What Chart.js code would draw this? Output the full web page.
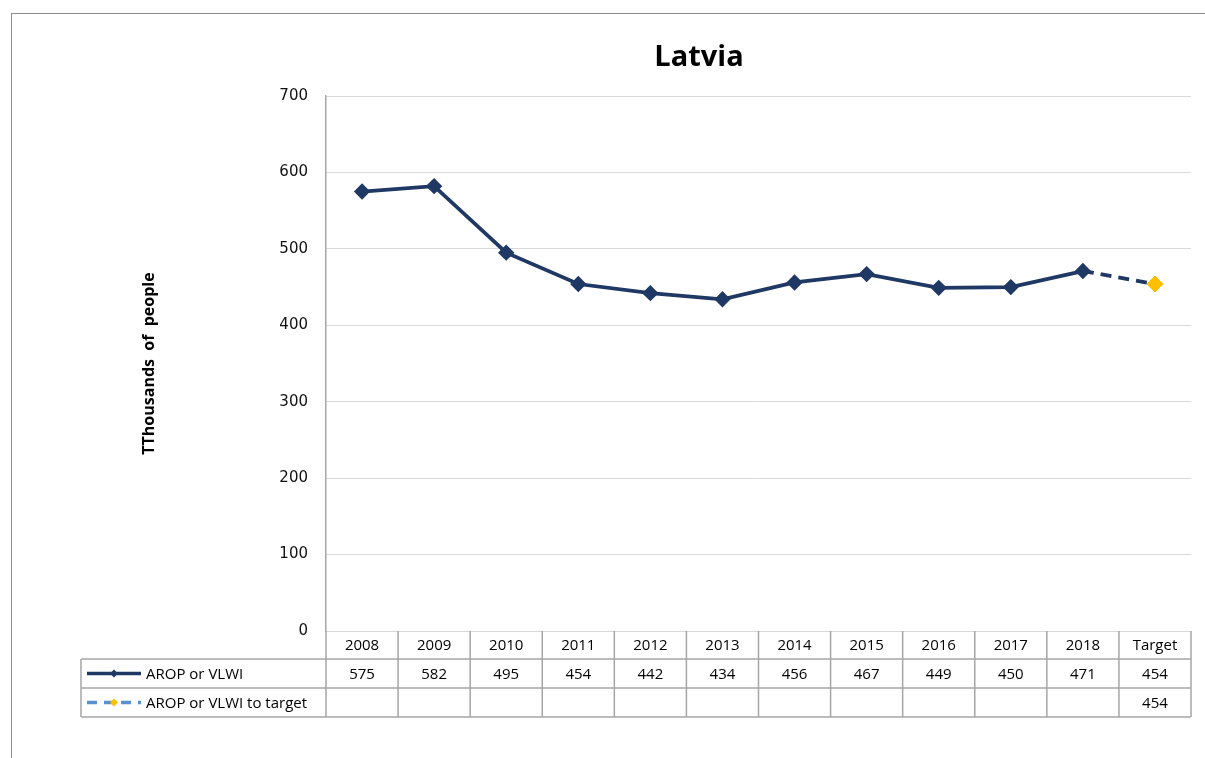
<!DOCTYPE html>
<html>
<head>
<meta charset="utf-8">
<script src="https://cdn.jsdelivr.net/npm/chart.js@4"></script>
<style>
  html, body { margin: 0; padding: 0; background: #fff; }
  #wrap { position: relative; width: 1205px; height: 758px; }
  #frame { position: absolute; left: 11px; top: 13px; width: 1300px; height: 800px;
           border-left: 1px solid #8c8c8c; border-top: 1px solid #8c8c8c; pointer-events: none; }
  canvas { position: absolute; left: 0; top: 0; }
</style>
</head>
<body>
<div id="wrap">
  <canvas id="latviaChart" width="1205" height="758"></canvas>
  <div id="frame"></div>
</div>
<script>
const years = ["2008","2009","2010","2011","2012","2013","2014","2015","2016","2017","2018","Target"];
const aropValues = [575, 582, 495, 454, 442, 434, 456, 467, 449, 450, 471, null];
const toTargetValues = [null, null, null, null, null, null, null, null, null, null, 471, 454];
const aropTable = ["575","582","495","454","442","434","456","467","449","450","471","454"];
const toTargetTable = ["","","","","","","","","","","","454"];
const yTicks = [0, 100, 200, 300, 400, 500, 600, 700];

const navy = "#1f3864";
const gold = "#ffc000";
const lightBlue = "#5b8fd0";
const tableLine = "#a6a6a6";
const tableFont = "15px 'Open Sans', 'Liberation Sans', sans-serif";

// title + data table drawn under the chart
const tablePlugin = {
  id: "dataTable",
  afterDraw(chart){
    const ctx = chart.ctx;
    const area = chart.chartArea;
    const x = chart.scales.x;
    const colW = (area.right - area.left) / years.length;

    ctx.save();
    ctx.fillStyle = "#000";
    ctx.font = "bold 29px 'Open Sans', 'Liberation Sans', sans-serif";
    ctx.textAlign = "center";
    ctx.textBaseline = "middle";
    ctx.fillText("Latvia", 699, 58);

    const top = area.bottom;
    const r1 = top + 28;
    const r2 = r1 + 29;
    const r3 = r2 + 29;
    const tLeft = 81;

    ctx.strokeStyle = tableLine;
    ctx.lineWidth = 1.5;
    ctx.beginPath();
    ctx.moveTo(tLeft, r1); ctx.lineTo(area.right, r1);
    ctx.moveTo(tLeft, r2); ctx.lineTo(area.right, r2);
    ctx.moveTo(tLeft, r3); ctx.lineTo(area.right, r3);
    ctx.moveTo(tLeft, r1); ctx.lineTo(tLeft, r3);
    for(let i = 0; i <= years.length; i++){
      const cx = area.left + i * colW;
      ctx.moveTo(cx, top); ctx.lineTo(cx, r3);
    }
    ctx.stroke();

    ctx.fillStyle = "#000";
    ctx.font = tableFont;
    ctx.textAlign = "center";
    years.forEach((label, i) => {
      const cx = x.getPixelForValue(i);
      ctx.fillText(label, cx, (top + r1) / 2 + 1);
      ctx.fillText(aropTable[i], cx, (r1 + r2) / 2 + 1);
      if(toTargetTable[i]) ctx.fillText(toTargetTable[i], cx, (r2 + r3) / 2 + 1);
    });

    // legend keys
    const y1 = (r1 + r2) / 2;
    const y2 = (r2 + r3) / 2;
    ctx.lineWidth = 3.5;
    ctx.strokeStyle = navy;
    ctx.beginPath();
    ctx.moveTo(87, y1); ctx.lineTo(141, y1);
    ctx.stroke();
    drawDiamond(ctx, 114, y1, 4, navy);

    ctx.strokeStyle = lightBlue;
    ctx.setLineDash([10, 7]);
    ctx.beginPath();
    ctx.moveTo(87, y2); ctx.lineTo(141, y2);
    ctx.stroke();
    ctx.setLineDash([]);
    drawDiamond(ctx, 114, y2, 4, gold);

    ctx.fillStyle = "#000";
    ctx.textAlign = "left";
    ctx.fillText("AROP or VLWI", 146, y1 + 1);
    ctx.fillText("AROP or VLWI to target", 146, y2 + 1);
    ctx.restore();
  }
};

function drawDiamond(ctx, cx, cy, r, color){
  ctx.fillStyle = color;
  ctx.beginPath();
  ctx.moveTo(cx, cy - r);
  ctx.lineTo(cx + r, cy);
  ctx.lineTo(cx, cy + r);
  ctx.lineTo(cx - r, cy);
  ctx.closePath();
  ctx.fill();
}

new Chart(document.getElementById("latviaChart"), {
  type: "line",
  data: {
    labels: years,
    datasets: [{
      label: "AROP or VLWI",
      data: aropValues,
      borderColor: navy,
      backgroundColor: navy,
      borderWidth: 3.8,
      pointStyle: "rectRot",
      pointRadius: 5.5,
      pointHoverRadius: 5.5,
      tension: 0
    },{
      label: "AROP or VLWI to target",
      data: toTargetValues,
      borderColor: navy,
      backgroundColor: gold,
      borderWidth: 3.8,
      borderDash: [11, 7],
      pointStyle: "rectRot",
      pointRadius: (c) => c.dataIndex === years.length - 1 ? 8 : 0,
      pointHoverRadius: (c) => c.dataIndex === years.length - 1 ? 8 : 0,
      pointBorderColor: gold,
      pointBorderWidth: 1,
      tension: 0
    }]
  },
  options: {
    responsive: false,
    animation: false,
    layout: { padding: { left: 140, right: 14, top: 96, bottom: 127 } },
    plugins: {
      legend: { display: false },
      title: { display: false },
      tooltip: { enabled: false }
    },
    scales: {
      x: {
        offset: true,
        grid: { display: false },
        border: { display: false },
        ticks: { display: false },
        afterFit(scale){ scale.height = 0; }
      },
      y: {
        min: 0,
        max: 700,
        afterBuildTicks(scale){ scale.ticks = yTicks.map(v => ({ value: v })); },
        grid: { color: "#d9d9d9", lineWidth: 1, drawTicks: false },
        border: { display: true, color: "#a6a6a6", width: 1.5 },
        ticks: {
          padding: 18,
          color: "#111",
          font: { family: "'DejaVu Sans', sans-serif", size: 15 }
        },
        title: {
          display: true,
          text: "TThousands  of  people",
          color: "#000",
          padding: 0,
          font: { family: "'Open Sans', 'Liberation Sans', sans-serif", size: 16, weight: "bold" }
        },
        afterFit(scale){ scale.width = 186; }
      }
    }
  },
  plugins: [tablePlugin]
});
</script>
</body>
</html>
